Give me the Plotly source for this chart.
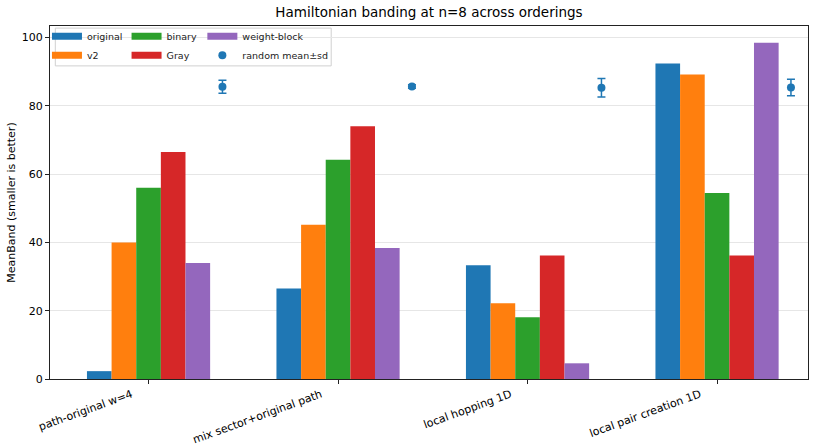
import plotly.graph_objects as go

categories = ["path-original w=4", "mix sector+original path", "local hopping 1D", "local pair creation 1D"]
series_names = ["original", "v2", "binary", "Gray", "weight-block"]
original = [2.3, 26.5, 33.3, 92.4]
v2 = [40.0, 45.2, 22.2, 89.2]
binary = [56.0, 64.2, 18.1, 54.5]
gray = [66.5, 74.0, 36.2, 36.2]
weight_block = [34.0, 38.4, 4.6, 98.5]
random_mean = [85.6, 85.7, 85.3, 85.4]
random_sd = [1.9, 0.5, 2.7, 2.4]
yticks = [0, 20, 40, 60, 80, 100]

colors = ["#1f77b4", "#ff7f0e", "#2ca02c", "#d62728", "#9467bd"]
series = [original, v2, binary, gray, weight_block]
legend_of = ["legend", "legend", "legend2", "legend2", "legend3"]

W = 0.13
fig = go.Figure()
idx = list(range(len(categories)))
for k, (name, vals) in enumerate(zip(series_names, series)):
    off = (k - 2) * W
    fig.add_trace(go.Bar(
        x=[i + off for i in idx], y=vals, width=W, name=name,
        marker=dict(color=colors[k], line=dict(width=0)),
        showlegend=False,
    ))
    # legend proxy (wide rectangle patch)
    fig.add_trace(go.Scatter(
        x=[None], y=[None], mode="lines", name=name,
        line=dict(color=colors[k], width=7),
        legend=legend_of[k], showlegend=True,
    ))

fig.add_trace(go.Scatter(
    x=[i + 0.39 for i in idx], y=random_mean, mode="markers",
    name="random mean±sd",
    marker=dict(color="#1f77b4", size=8),
    error_y=dict(type="data", array=random_sd, visible=True, color="#1f77b4", thickness=1.5, width=4),
    legend="legend3",
))

leg_common = dict(bgcolor="rgba(0,0,0,0)", borderwidth=0, font=dict(family="DejaVu Sans", size=9.5, color="#222"),
                  xanchor="left", yanchor="top", tracegroupgap=0, itemwidth=30)
fig.update_layout(
    width=829, height=446,
    margin=dict(l=50, r=21, t=26, b=67),
    plot_bgcolor="white", paper_bgcolor="white",
    barmode="overlay",
    title=dict(text="Hamiltonian banding at n=8 across orderings", x=0.5, xref="paper", xanchor="center",
               y=0.972, yanchor="middle", font=dict(family="DejaVu Sans", size=13.5, color="black")),
    font=dict(family="DejaVu Sans", size=11, color="black"),
    legend=dict(x=-0.004, y=1.012, **leg_common),
    legend2=dict(x=0.101, y=1.012, **leg_common),
    legend3=dict(x=0.201, y=1.012, **leg_common),
    shapes=[dict(type="rect", xref="paper", yref="paper", x0=0.007, x1=0.371, y0=0.887, y1=0.994,
                 line=dict(color="#d0d0d0", width=1), fillcolor="rgba(255,255,255,0.8)", layer="below")],
    xaxis=dict(range=[-0.52, 3.48], tickmode="array", tickvals=idx, ticktext=categories, tickangle=-20,
               showline=True, linecolor="#222", linewidth=1, mirror=True, ticks="outside", ticklen=4,
               tickcolor="#222", showgrid=False, zeroline=False, tickfont=dict(size=11), automargin=False,
               ticklabelshift=-17, ticklabelstandoff=0),
    yaxis=dict(range=[0, 103.4], tickmode="array", tickvals=yticks,
               showline=True, linecolor="#222", linewidth=1, mirror=True, ticks="outside", ticklen=4,
               tickcolor="#222", showgrid=True, gridcolor="#e6e6e6", zeroline=False, automargin=False,
               title=dict(text="MeanBand (smaller is better)", font=dict(size=11), standoff=3),
               tickfont=dict(size=11)),
)
fig.write_html("out.html")
